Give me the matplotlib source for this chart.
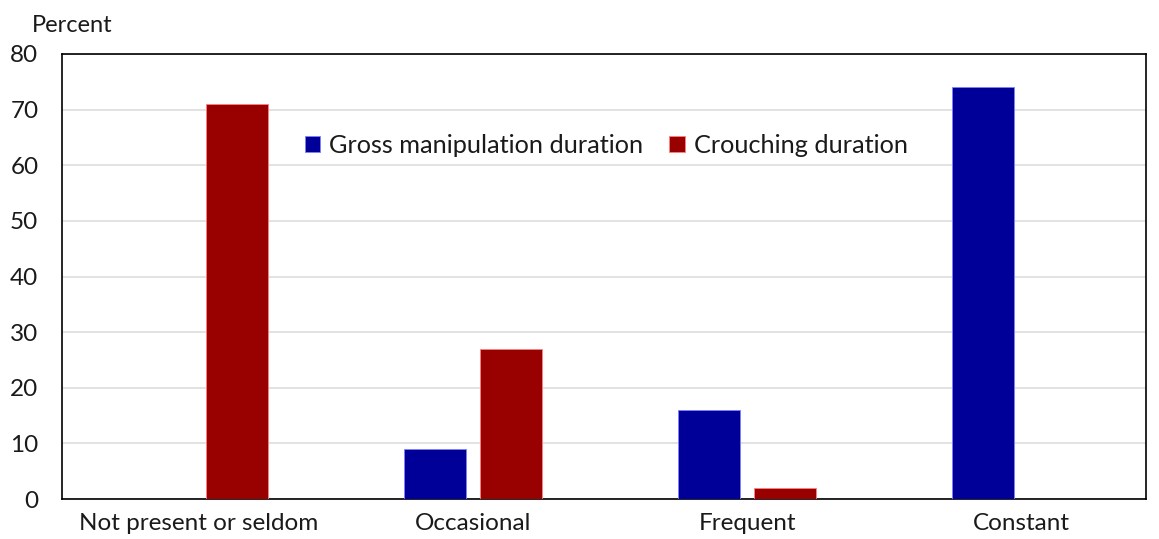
import matplotlib.pyplot as plt
import numpy as np

# data
categories = ['Not present or seldom', 'Occasional', 'Frequent', 'Constant']
gross_manipulation = [0, 9, 16, 74]
crouching = [71, 27, 2, 0]
series_names = ['Gross manipulation duration', 'Crouching duration']
yticks = [0, 10, 20, 30, 40, 50, 60, 70, 80]

plt.rcParams['font.family'] = ['Lato', 'DejaVu Sans']
txt = '#1a1a1a'

fig = plt.figure(figsize=(11.59, 5.39), dpi=100)
ax = fig.add_axes([62 / 1159, 1 - 499 / 539, (1146 - 62) / 1159, (499 - 54) / 539])

x = np.arange(len(categories))
w = 0.226
off = 0.14
ax.bar(x - off, gross_manipulation, w, color='#000099', edgecolor='#8080ff',
       linewidth=0.6, label=series_names[0], zorder=3)
ax.bar(x + off, crouching, w, color='#990000', edgecolor='#ff8080',
       linewidth=0.6, label=series_names[1], zorder=3)

ax.set_xlim(-0.5, 3.456)
ax.set_ylim(0, 80)
ax.set_yticks(yticks)
ax.set_xticks(x)
ax.set_xticklabels(categories)
ax.tick_params(length=0, labelsize=17.5, colors=txt)
ax.tick_params(axis='x', pad=10)
ax.tick_params(axis='y', pad=17)
ax.grid(axis='y', color='#dddddd', linewidth=1.2, zorder=0)
for s in ax.spines.values():
    s.set_color('black')
    s.set_linewidth(1.2)

fig.text(32 / 1159, 1 - 25 / 539, 'Percent', fontsize=17, color=txt, va='center')

ax.legend(loc='center left', bbox_to_anchor=(0.224, 0.795), ncol=2, frameon=False,
          fontsize=18.2, handlelength=0.6, handleheight=0.6, handletextpad=0.35,
          columnspacing=1.05, labelcolor=txt, borderaxespad=0, borderpad=0)

fig.savefig('out.png', dpi=100)
